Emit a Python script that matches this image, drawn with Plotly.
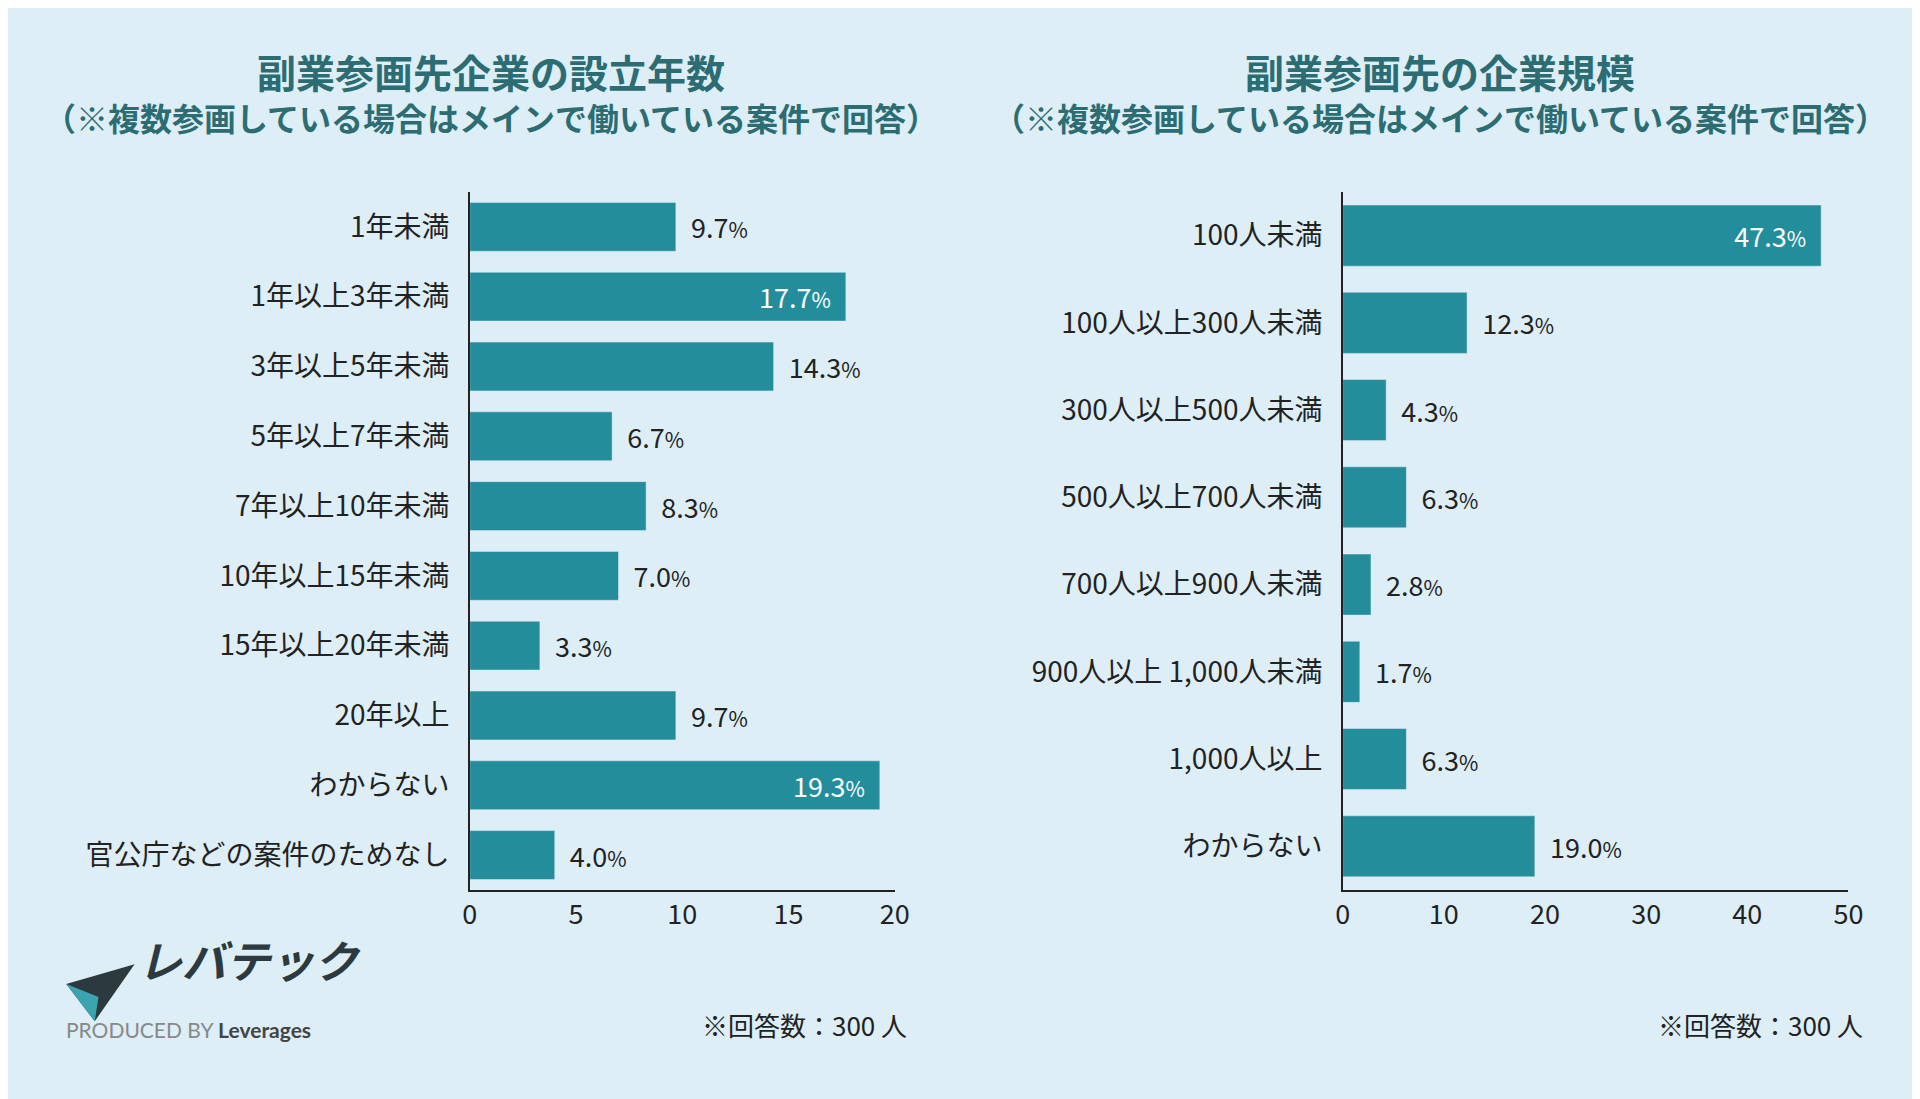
import plotly.graph_objects as go

left_cats = ["1年未満", "1年以上3年未満", "3年以上5年未満", "5年以上7年未満", "7年以上10年未満",
             "10年以上15年未満", "15年以上20年未満", "20年以上", "わからない", "官公庁などの案件のためなし"]
left_vals = [9.7, 17.7, 14.3, 6.7, 8.3, 7.0, 3.3, 9.7, 19.3, 4.0]

right_cats = ["100人未満", "100人以上300人未満", "300人以上500人未満", "500人以上700人未満",
              "700人以上900人未満", "900人以上 1,000人未満", "1,000人以上", "わからない"]
right_vals = [47.3, 12.3, 4.3, 6.3, 2.8, 1.7, 6.3, 19.0]

BG = "#ddeef7"
BAR = "#238d9b"
TITLE = "#2b6d72"
FONT = "Noto Sans CJK JP"

def bar(cats, vals, limit, xa, ya):
    pos = ["inside" if v > limit else "outside" for v in vals]
    col = ["white" if v > limit else "#222" for v in vals]
    txt = [(f"{v:.1f}<span style='font-size:21px'>%</span>  " if v > limit
            else f"  {v:.1f}<span style='font-size:21px'>%</span>") for v in vals]
    return go.Bar(y=cats, x=vals, orientation="h", marker_color=BAR,
                  text=txt, textposition=pos, insidetextanchor="end",
                  textfont=dict(size=27, color=col, family=FONT),
                  cliponaxis=False, xaxis=xa, yaxis=ya)

fig = go.Figure()
fig.add_trace(bar(left_cats, left_vals, 15, "x", "y"))
fig.add_trace(bar(right_cats, right_vals, 30, "x2", "y2"))

ax = dict(showgrid=False, zeroline=False, showline=True, linecolor="#222", linewidth=2,
          ticks="", tickfont=dict(size=27, color="#222", family=FONT))
ay = dict(showgrid=False, showline=True, linecolor="#222", linewidth=2, autorange="reversed",
          ticks="", ticksuffix="  ", tickfont=dict(size=28, color="#222", family=FONT))

fig.update_layout(
    width=1920, height=1099, paper_bgcolor=BG, plot_bgcolor=BG, showlegend=False,
    margin=dict(l=0, r=0, t=0, b=0), bargap=0.3,
    xaxis=dict(ax, domain=[0.2396, 0.4635], range=[0, 20], dtick=5, anchor="y"),
    yaxis=dict(ay, domain=[0.1975, 0.8326], anchor="x"),
    xaxis2=dict(ax, domain=[0.6995, 0.966], range=[0, 50], dtick=10, anchor="y2"),
    yaxis2=dict(ay, domain=[0.1975, 0.8326], anchor="x2"),
)

sub = "（※複数参画している場合はメインで働いている案件で回答）"
for xc, t in [(0.2506, "副業参画先企業の設立年数"), (0.7506, "副業参画先の企業規模")]:
    fig.add_annotation(x=xc, y=0.97, xref="paper", yref="paper", xanchor="center",
                       text=f"<b>{t}</b>", showarrow=False,
                       font=dict(size=39, color=TITLE, family=FONT))
    fig.add_annotation(x=xc, y=0.924, xref="paper", yref="paper", xanchor="center",
                       text=f"<b>{sub}</b>", showarrow=False,
                       font=dict(size=32, color=TITLE, family=FONT))

for xr in [0.471, 0.9745]:
    fig.add_annotation(x=xr, y=0.056, xref="paper", yref="paper", xanchor="right",
                       text="※回答数：300 人", showarrow=False,
                       font=dict(size=26, color="#222", family=FONT))

# logo
fig.add_shape(type="path", xref="paper", yref="paper",
              path="M 0.027 0.112 L 0.042 0.078 L 0.063 0.13 Z", fillcolor="#2c3a40", line_width=0)
fig.add_shape(type="path", xref="paper", yref="paper",
              path="M 0.027 0.112 L 0.042 0.078 L 0.044 0.1 Z", fillcolor="#3aa5b0", line_width=0)
fig.add_annotation(x=0.064, y=0.104, xref="paper", yref="paper", xanchor="left",
                   text="<b><i>レバテック</i></b>", showarrow=False,
                   font=dict(size=44, color="#2c3a40", family=FONT))
fig.add_annotation(x=0.026, y=0.057, xref="paper", yref="paper", xanchor="left",
                   text="<span style='color:#888'>PRODUCED BY</span> <b>Leverages</b>", showarrow=False,
                   font=dict(size=21, color="#444", family="Lato"))

fig.write_html("out.html")
